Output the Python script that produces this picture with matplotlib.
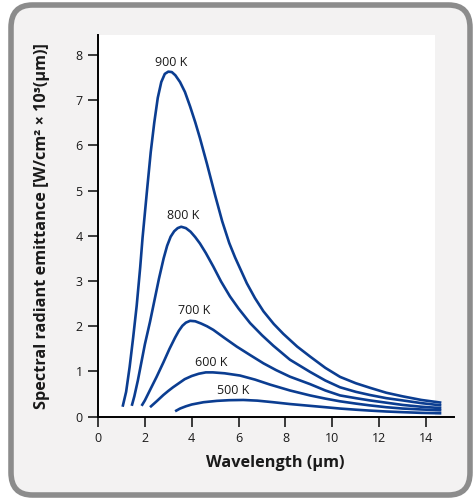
import matplotlib.pyplot as plt
from matplotlib.patches import FancyBboxPatch, Rectangle

plt.rcParams['font.family'] = ['Open Sans', 'DejaVu Sans']

# values (wavelength in um, emittance)
x900 = [1.05, 1.2, 1.35, 1.5, 1.65, 1.8, 1.9, 2.1, 2.25, 2.4, 2.55, 2.7, 2.85, 3.0, 3.15,
        3.3, 3.5, 3.71, 3.93, 4.15, 4.35, 4.65, 5.0, 5.3, 5.6, 5.85, 6.35, 6.7, 7.06, 7.5,
        7.91, 8.5, 9.05, 9.7, 10.33, 11.0, 11.6, 12.3, 13.0, 13.8, 14.65]
y900 = [0.22, 0.55, 1.1, 1.75, 2.45, 3.3, 3.95, 5.05, 5.85, 6.5, 7.05, 7.4, 7.58, 7.63, 7.62,
        7.55, 7.4, 7.18, 6.86, 6.51, 6.16, 5.59, 4.89, 4.32, 3.84, 3.52, 2.95, 2.62, 2.33, 2.05,
        1.83, 1.55, 1.33, 1.08, 0.88, 0.74, 0.64, 0.53, 0.45, 0.37, 0.31]

x800 = [1.44, 1.55, 1.7, 1.85, 2.0, 2.22, 2.4, 2.6, 2.8, 2.95, 3.1, 3.25, 3.4, 3.55, 3.75,
        3.95, 4.15, 4.35, 4.6, 4.92, 5.25, 5.63, 6.0, 6.49, 7.0, 7.48, 8.19, 9.05, 9.7, 10.33,
        11.0, 11.6, 12.3, 13.0, 13.8, 14.65]
y800 = [0.24, 0.45, 0.8, 1.2, 1.6, 2.1, 2.55, 3.05, 3.5, 3.78, 3.98, 4.1, 4.17, 4.2, 4.17,
        4.09, 3.97, 3.83, 3.62, 3.32, 2.99, 2.66, 2.39, 2.07, 1.8, 1.57, 1.26, 0.99, 0.8, 0.65,
        0.55, 0.48, 0.41, 0.36, 0.3, 0.25]

x700 = [1.86, 2.0, 2.22, 2.5, 2.79, 3.05, 3.29, 3.45, 3.6, 3.75, 3.93, 4.15, 4.4, 4.65,
        4.92, 5.4, 5.92, 6.5, 7.06, 7.6, 8.19, 9.05, 9.7, 10.33, 11.0, 11.6, 12.3, 13.0,
        13.8, 14.65]
y700 = [0.24, 0.36, 0.59, 0.88, 1.2, 1.5, 1.75, 1.9, 2.01, 2.08, 2.12, 2.11, 2.06, 2.0,
        1.92, 1.74, 1.55, 1.36, 1.18, 1.03, 0.885, 0.72, 0.58, 0.47, 0.41, 0.36, 0.31, 0.26,
        0.22, 0.19]

x600 = [2.22, 2.5, 2.79, 3.0, 3.2, 3.45, 3.7, 4.0, 4.3, 4.6, 4.9, 5.4, 6.06, 6.7, 7.34,
        8.19, 9.05, 9.7, 10.33, 11.0, 11.6, 12.3, 13.0, 13.8, 14.65]
y600 = [0.21, 0.34, 0.48, 0.57, 0.65, 0.74, 0.83, 0.9, 0.95, 0.98, 0.98, 0.96, 0.91, 0.82, 0.71,
        0.58, 0.47, 0.4, 0.34, 0.29, 0.25, 0.21, 0.18, 0.16, 0.14]

x500 = [3.29, 3.5, 3.75, 4.0, 4.5, 5.07, 5.6, 6.2, 6.8, 7.48, 8.19, 9.05, 9.7, 10.33, 11.0,
        11.6, 12.3, 13.0, 13.8, 14.65]
y500 = [0.12, 0.18, 0.23, 0.27, 0.32, 0.35, 0.365, 0.37, 0.355, 0.32, 0.28, 0.24, 0.21, 0.18,
        0.155, 0.135, 0.115, 0.1, 0.085, 0.075]

curves = [(x900, y900), (x800, y800), (x700, y700), (x600, y600), (x500, y500)]
labels = ['900 K', '800 K', '700 K', '600 K', '500 K']
label_x = [3.12, 3.64, 4.10, 4.85, 5.78]
label_y = [7.84, 4.44, 2.35, 1.20, 0.57]

W, H = 476, 500
fig = plt.figure(figsize=(W / 100, H / 100), dpi=100)

# rounded grey card behind everything
card = FancyBboxPatch((11 / W, 5 / H), 459 / W, 490 / H,
                      boxstyle="round,pad=0,rounding_size=0.045",
                      transform=fig.transFigure, facecolor='#f3f2f2',
                      edgecolor='#8c8c8c', linewidth=4, zorder=-5)
fig.patches.append(card)

ax = fig.add_axes([98 / W, 83.3 / H, (454 - 98) / W, (416.7 - 35) / H])
ax.set_zorder(2)
ax.set_facecolor('none')
ax.set_xlim(0, 15.19)
ax.set_ylim(0, 8.44)
ax.add_patch(Rectangle((0, 0), 14.4, 8.44, facecolor='white', edgecolor='none', zorder=0))

line_color = '#0b3d91'
for (xs, ys) in curves:
    ax.plot(xs, ys, color=line_color, linewidth=1.9, solid_capstyle='butt',
            solid_joinstyle='round', zorder=3)

for lab, lx, ly in zip(labels, label_x, label_y):
    ax.text(lx, ly, lab, ha='center', va='center', fontsize=9, color='#1a1a1a')

ax.spines['top'].set_visible(False)
ax.spines['right'].set_visible(False)
ax.spines['left'].set_linewidth(1.4)
ax.spines['bottom'].set_linewidth(1.4)
ax.set_xticks(range(0, 15, 2))
ax.set_yticks(range(0, 9, 1))
ax.tick_params(direction='out', length=7, width=1.2, labelsize=9, pad=4, colors='#1a1a1a')

fig.text(275 / W, 1 - 463 / H, 'Wavelength (µm)', ha='center', va='center',
         fontsize=11.7, fontweight='bold', color='#1a1a1a')
fig.text(42 / W, 1 - 226 / H, 'Spectral radiant emittance [W/cm² × 10³(µm)]',
         ha='center', va='center', rotation=90, fontsize=11.7, fontweight='bold', color='#1a1a1a')

fig.savefig('out.png', dpi=100)
